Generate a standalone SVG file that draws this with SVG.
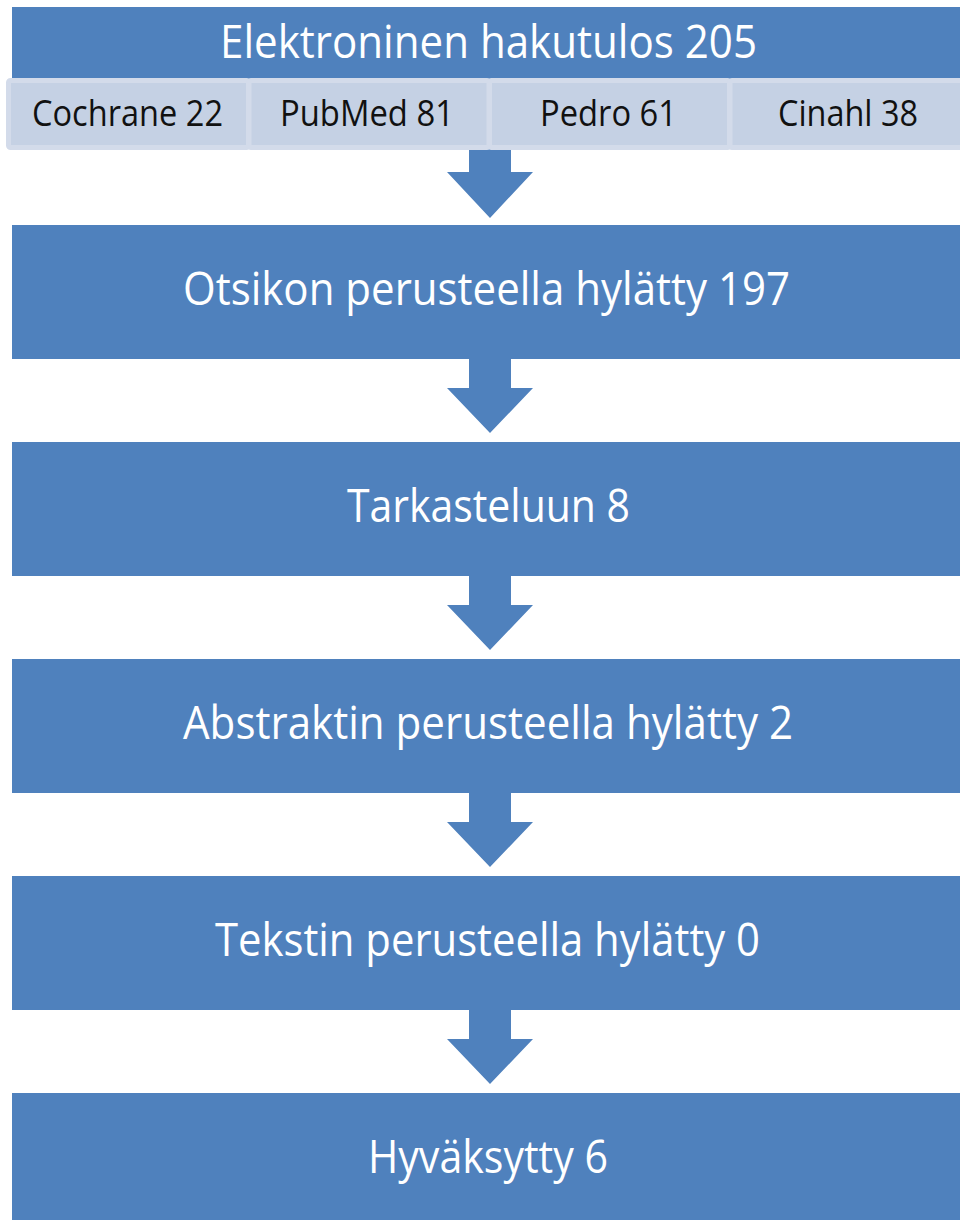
<svg xmlns="http://www.w3.org/2000/svg" width="960" height="1220" viewBox="0 0 960 1220">
  <style>
    .box { fill: #4F81BD; }
    .sub { fill: #C5D1E4; stroke: #D3DBEA; stroke-width: 5; }
    .arrow { fill: #4F81BD; }
    .title { font-family: "Open Sans", "Noto Sans", sans-serif; font-size: 46px; fill: #FFFFFF; text-anchor: middle; }
    .label { font-family: "Open Sans", "Noto Sans", sans-serif; font-size: 36px; fill: #111111; text-anchor: middle; }
  </style>
  <rect width="960" height="1220" fill="#FFFFFF"/>

  <g id="connectors">
    <polygon class="arrow" points="469,148 511,148 511,172 533,172 490,218 447,172 469,172"/>
    <polygon class="arrow" points="469,358 511,358 511,388 533,388 490,433 447,388 469,388"/>
    <polygon class="arrow" points="469,575 511,575 511,605 533,605 490,650 447,605 469,605"/>
    <polygon class="arrow" points="469,792 511,792 511,822 533,822 490,867 447,822 469,822"/>
    <polygon class="arrow" points="469,1009 511,1009 511,1039 533,1039 490,1084 447,1039 469,1039"/>
  </g>

  <g id="node-haku">
    <rect class="box" x="12" y="7" width="960" height="75"/>
    <text class="title" x="488.5" y="58" textLength="537" lengthAdjust="spacingAndGlyphs">Elektroninen hakutulos 205</text>
  </g>
  <g id="node-cochrane">
    <rect class="sub" x="8.5" y="80.5" width="240" height="67" rx="2"/>
    <text class="label" x="127.5" y="126" textLength="191" lengthAdjust="spacingAndGlyphs">Cochrane 22</text>
  </g>
  <g id="node-pubmed">
    <rect class="sub" x="249" y="80.5" width="240" height="67" rx="2"/>
    <text class="label" x="367" y="126" textLength="174" lengthAdjust="spacingAndGlyphs">PubMed 81</text>
  </g>
  <g id="node-pedro">
    <rect class="sub" x="489.5" y="80.5" width="240" height="67" rx="2"/>
    <text class="label" x="608.5" y="126" textLength="137" lengthAdjust="spacingAndGlyphs">Pedro 61</text>
  </g>
  <g id="node-cinahl">
    <rect class="sub" x="730" y="80.5" width="240" height="67" rx="2"/>
    <text class="label" x="848" y="126" textLength="140" lengthAdjust="spacingAndGlyphs">Cinahl 38</text>
  </g>

  <g id="node-otsikko">
    <rect class="box" x="12" y="225" width="960" height="134"/>
    <text class="title" x="486.5" y="305" textLength="607" lengthAdjust="spacingAndGlyphs">Otsikon perusteella hylätty 197</text>
  </g>
  <g id="node-tarkastelu">
    <rect class="box" x="12" y="442" width="960" height="134"/>
    <text class="title" x="488.5" y="522" textLength="283" lengthAdjust="spacingAndGlyphs">Tarkasteluun 8</text>
  </g>
  <g id="node-abstrakti">
    <rect class="box" x="12" y="659" width="960" height="134"/>
    <text class="title" x="488" y="739" textLength="610" lengthAdjust="spacingAndGlyphs">Abstraktin perusteella hylätty 2</text>
  </g>
  <g id="node-teksti">
    <rect class="box" x="12" y="876" width="960" height="134"/>
    <text class="title" x="487.5" y="956" textLength="545" lengthAdjust="spacingAndGlyphs">Tekstin perusteella hylätty 0</text>
  </g>
  <g id="node-hyvaksytty">
    <rect class="box" x="12" y="1093" width="960" height="134"/>
    <text class="title" x="488" y="1173" textLength="240" lengthAdjust="spacingAndGlyphs">Hyväksytty 6</text>
  </g>
</svg>
